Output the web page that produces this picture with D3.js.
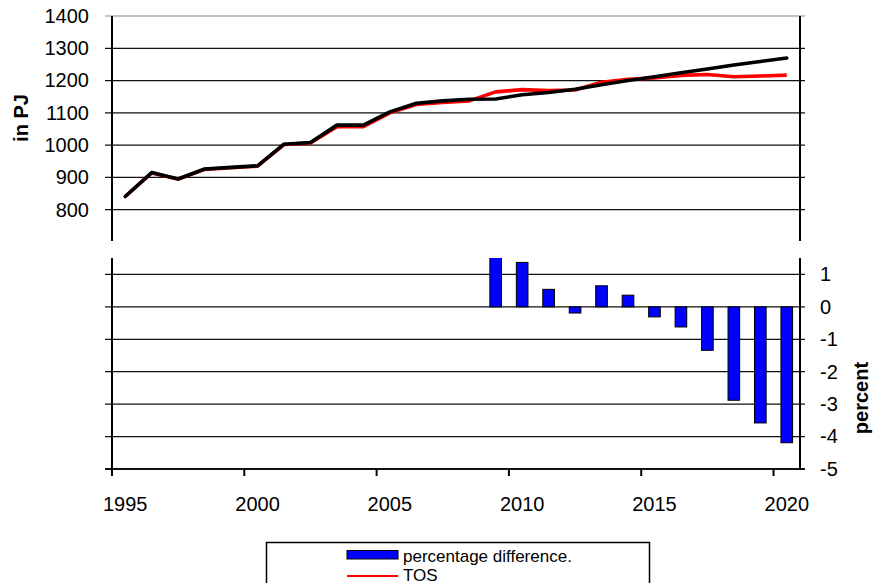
<!DOCTYPE html>
<html>
<head>
<meta charset="utf-8">
<script src="https://cdn.jsdelivr.net/npm/d3@7"></script>
<style>
  body { margin: 0; background: #fff; }
  text { font-family: Arial, "Liberation Sans", sans-serif; }
</style>
</head>
<body>
<div id="content"></div>
<script>
// Categories.
var years = [1995, 1996, 1997, 1998, 1999, 2000, 2001, 2002, 2003, 2004,
             2005, 2006, 2007, 2008, 2009, 2010, 2011, 2012, 2013, 2014,
             2015, 2016, 2017, 2018, 2019, 2020];

// TOS (red line), in PJ.
var tos = [841, 914, 895, 925, 930, 935, 1002, 1007, 1057, 1057,
           1100, 1126, 1132, 1137, 1165, 1172, 1169, 1171, 1195, 1204,
           1208, 1216, 1219, 1212, 1214, 1217];

// Second series (black line), in PJ.
var other = [841, 915, 895, 926, 931, 936, 1003, 1008, 1062, 1062,
             1103, 1130, 1137, 1142, 1143, 1156, 1163, 1173, 1187, 1200,
             1212, 1224, 1236, 1248, 1259, 1270];

// Percentage difference (bars), 2009 onwards.
var diffYears = [2009, 2010, 2011, 2012, 2013, 2014, 2015, 2016, 2017, 2018, 2019, 2020];
var diffValues = [1.9, 1.37, 0.54, -0.19, 0.65, 0.36, -0.31, -0.62, -1.34, -2.88, -3.58, -4.19];

// Tick labels.
var topTicks = [800, 900, 1000, 1100, 1200, 1300, 1400];
var botTicks = [1, 0, -1, -2, -3, -4, -5];
var yearTicks = [1995, 2000, 2005, 2010, 2015, 2020];

var W = 873, H = 583;
var left = 112, right = 800;
var FONT = 'Arial, "Liberation Sans", sans-serif';

var svg = d3.select('#content')
            .append('svg')
            .attr('width', W)
            .attr('height', H);

svg.append('rect').attr('width', W).attr('height', H).attr('fill', '#fff');

// Shared category scale.
var x = d3.scaleBand().domain(years).range([ left, right ]);
var bw = x.bandwidth();
function cx(yr) { return x(yr) + bw / 2; }

// Upper panel: PJ, lower panel: percent.
var yTop = d3.scaleLinear().domain([ 700, 1400 ]).range([ 242, 16 ]);
var yBot = d3.scaleLinear().domain([ -5, 2 ]).range([ 469, 242 ]);
var botTop = 258;

// Grid lines.
svg.append('g')
    .selectAll('line')
    .data(topTicks)
    .enter()
    .append('line')
    .attr('x1', left - 7)
    .attr('x2', right + 5)
    .attr('y1', function(d) { return yTop(d); })
    .attr('y2', function(d) { return yTop(d); })
    .attr('stroke', function(d) { return d === 1400 ? '#8a8a8a' : '#111'; })
    .attr('stroke-width', function(d) { return d === 1400 ? 1.2 : 1.3; });

svg.append('g')
    .selectAll('line')
    .data(botTicks)
    .enter()
    .append('line')
    .attr('x1', left - 7)
    .attr('x2', right + 5)
    .attr('y1', function(d) { return yBot(d); })
    .attr('y2', function(d) { return yBot(d); })
    .attr('stroke', '#111')
    .attr('stroke-width', function(d) { return d === -5 ? 1.8 : 1.3; });

// Bars, clipped to the lower panel.
svg.append('clipPath')
    .attr('id', 'botclip')
    .append('rect')
    .attr('x', left)
    .attr('y', botTop)
    .attr('width', right - left)
    .attr('height', yBot(-5) - botTop);

var barW = bw * 0.44;
svg.append('g')
    .attr('clip-path', 'url(#botclip)')
    .selectAll('rect')
    .data(diffYears)
    .enter()
    .append('rect')
    .attr('x', function(d) { return cx(d) - barW / 2; })
    .attr('y', function(d, i) { return yBot(Math.max(0, diffValues[i])); })
    .attr('width', barW)
    .attr('height', function(d, i) {
      return Math.abs(yBot(diffValues[i]) - yBot(0));
    })
    .attr('fill', '#0000ff')
    .attr('stroke', '#000')
    .attr('stroke-width', 1);

// Lines.
var line = d3.line()
               .x(function(d, i) { return cx(years[i]); })
               .y(function(d) { return yTop(d); });

svg.append('path')
    .datum(tos)
    .attr('d', line)
    .attr('fill', 'none')
    .attr('stroke', '#ff0000')
    .attr('stroke-width', 3.6)
    .attr('stroke-linejoin', 'round');

svg.append('path')
    .datum(other)
    .attr('d', line)
    .attr('fill', 'none')
    .attr('stroke', '#000')
    .attr('stroke-width', 3.6)
    .attr('stroke-linejoin', 'round')
    .attr('stroke-linecap', 'round');

// Vertical axes.
function vline(xp, y1, y2) {
  svg.append('line')
      .attr('x1', xp).attr('x2', xp)
      .attr('y1', y1).attr('y2', y2)
      .attr('stroke', '#000')
      .attr('stroke-width', 2);
}
vline(left, 16, 241);
vline(right, 16, 241);
vline(left, botTop, 470);
vline(right, botTop, 470);

// Upper-left labels.
var axTop = svg.append('g')
                .attr('transform', 'translate(' + left + ',0)')
                .call(d3.axisLeft(yTop).tickValues(topTicks)
                        .tickFormat(function(d) { return String(d); })
                        .tickSize(0).tickPadding(23));
axTop.select('.domain').remove();
axTop.selectAll('text').attr('font-size', 20).attr('fill', '#000')
    .style('font-family', FONT);

// Lower-right labels.
var axBot = svg.append('g')
                .attr('transform', 'translate(' + right + ',0)')
                .call(d3.axisRight(yBot).tickValues(botTicks)
                        .tickFormat(function(d) { return String(d); })
                        .tickSize(0).tickPadding(20));
axBot.select('.domain').remove();
axBot.selectAll('text').attr('font-size', 20).attr('fill', '#000')
    .style('font-family', FONT);

// Year axis: marks between categories, labels on category centres.
var axX = svg.append('g')
              .attr('transform', 'translate(0,469)')
              .call(d3.axisBottom(x).tickValues(yearTicks).tickSize(7).tickPadding(21));
axX.select('.domain').remove();
axX.selectAll('.tick line')
    .attr('x1', -bw / 2).attr('x2', -bw / 2)
    .attr('stroke', '#000').attr('stroke-width', 2);
axX.selectAll('text').attr('font-size', 20).attr('fill', '#000')
    .style('font-family', FONT);

// Axis titles.
svg.append('text')
    .attr('transform', 'translate(28,118) rotate(-90)')
    .attr('text-anchor', 'middle')
    .attr('font-size', 20)
    .attr('font-weight', 'bold')
    .text('in PJ');

svg.append('text')
    .attr('transform', 'translate(868,398) rotate(-90)')
    .attr('text-anchor', 'middle')
    .attr('font-size', 20)
    .attr('font-weight', 'bold')
    .text('percent');

// Legend (runs off the bottom edge).
var lg = svg.append('g');
lg.append('rect')
    .attr('x', 266.5).attr('y', 542.5)
    .attr('width', 383).attr('height', 70)
    .attr('fill', '#fff').attr('stroke', '#000').attr('stroke-width', 1.5);
lg.append('rect')
    .attr('x', 347).attr('y', 550.5)
    .attr('width', 51).attr('height', 8.5)
    .attr('fill', '#0000ff').attr('stroke', '#000').attr('stroke-width', 1);
lg.append('text')
    .attr('x', 403).attr('y', 561.5)
    .attr('font-size', 17)
    .text('percentage difference.');
lg.append('line')
    .attr('x1', 347).attr('x2', 398)
    .attr('y1', 576).attr('y2', 576)
    .attr('stroke', '#ff0000').attr('stroke-width', 2);
lg.append('text')
    .attr('x', 403).attr('y', 580.5)
    .attr('font-size', 17)
    .text('TOS');
</script>
</body>
</html>
